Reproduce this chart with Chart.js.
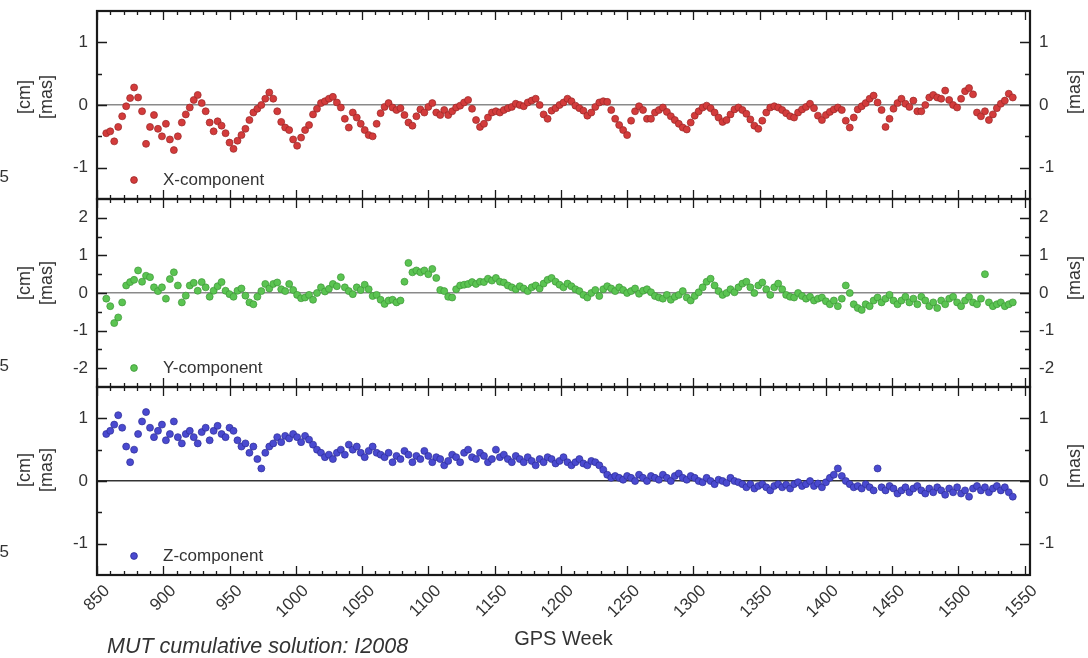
<!DOCTYPE html>
<html>
<head>
<meta charset="utf-8">
<script src="https://cdn.jsdelivr.net/npm/chart.js@4.4.1/dist/chart.umd.min.js"></script>
<style>
  html, body { margin: 0; padding: 0; background: #fff; }
  #wrap { position: relative; width: 1088px; height: 658px; overflow: hidden;
          font-family: "Liberation Sans", Arial, Helvetica, sans-serif; color: #333; }
  #wrap canvas { position: absolute; left: 0; top: 0; }
  .lbl { position: absolute; white-space: nowrap; line-height: 1; }
  .rot { font-size: 18px; transform: translate(-50%, -50%) rotate(-90deg); }
  .cut { font-size: 17px; left: -60px; width: 69px; text-align: right; }
  .note { font-size: 21.5px; font-style: italic; left: 107px; top: 636px; }
</style>
</head>
<body>
<div id="wrap">
  <canvas id="xChart" width="1088" height="658"></canvas>
  <canvas id="yChart" width="1088" height="658"></canvas>
  <canvas id="zChart" width="1088" height="658"></canvas>

  <div class="lbl cut" style="top:168px">-0.5</div>
  <div class="lbl cut" style="top:357px">-0.5</div>
  <div class="lbl cut" style="top:543px">-0.5</div>

  <div class="lbl rot" style="left:24px; top:97px">[cm]</div>
  <div class="lbl rot" style="left:46px; top:97px">[mas]</div>
  <div class="lbl rot" style="left:24px; top:283px">[cm]</div>
  <div class="lbl rot" style="left:46px; top:283px">[mas]</div>
  <div class="lbl rot" style="left:24px; top:470px">[cm]</div>
  <div class="lbl rot" style="left:46px; top:470px">[mas]</div>

  <div class="lbl rot" style="left:1074px; top:92px">[mas]</div>
  <div class="lbl rot" style="left:1074px; top:278px">[mas]</div>
  <div class="lbl rot" style="left:1074px; top:466px">[mas]</div>

  <div class="lbl note">MUT cumulative solution: I2008</div>
</div>

<script>
// GPS weeks (sampled every 3 weeks)
var weeks = [
  857,860,863,866,869,872,875,878,881,884,
  887,890,893,896,899,902,905,908,911,914,
  917,920,923,926,929,932,935,938,941,944,
  947,950,953,956,959,962,965,968,971,974,
  977,980,983,986,989,992,995,998,1001,1004,
  1007,1010,1013,1016,1019,1022,1025,1028,1031,1034,
  1037,1040,1043,1046,1049,1052,1055,1058,1061,1064,
  1067,1070,1073,1076,1079,1082,1085,1088,1091,1094,
  1097,1100,1103,1106,1109,1112,1115,1118,1121,1124,
  1127,1130,1133,1136,1139,1142,1145,1148,1151,1154,
  1157,1160,1163,1166,1169,1172,1175,1178,1181,1184,
  1187,1190,1193,1196,1199,1202,1205,1208,1211,1214,
  1217,1220,1223,1226,1229,1232,1235,1238,1241,1244,
  1247,1250,1253,1256,1259,1262,1265,1268,1271,1274,
  1277,1280,1283,1286,1289,1292,1295,1298,1301,1304,
  1307,1310,1313,1316,1319,1322,1325,1328,1331,1334,
  1337,1340,1343,1346,1349,1352,1355,1358,1361,1364,
  1367,1370,1373,1376,1379,1382,1385,1388,1391,1394,
  1397,1400,1403,1406,1409,1412,1415,1418,1421,1424,
  1427,1430,1433,1436,1439,1442,1445,1448,1451,1454,
  1457,1460,1463,1466,1469,1472,1475,1478,1481,1484,
  1487,1490,1493,1496,1499,1502,1505,1508,1511,1514,
  1517,1520,1523,1526,1529,1532,1535,1538,1541
];

// X-component [mas]
var xComp = [
  -0.45,-0.42,-0.58,-0.35,-0.18,-0.02,0.11,0.28,0.12,-0.1,
  -0.62,-0.35,-0.16,-0.38,-0.5,-0.3,-0.55,-0.72,-0.5,-0.28,
  -0.15,-0.04,0.08,0.16,0.03,-0.1,-0.28,-0.42,-0.26,-0.33,
  -0.45,-0.6,-0.7,-0.57,-0.48,-0.38,-0.24,-0.12,-0.06,0.0,
  0.1,0.2,0.1,-0.1,-0.27,-0.36,-0.4,-0.55,-0.65,-0.52,
  -0.4,-0.32,-0.15,-0.06,0.03,0.06,0.1,0.13,0.04,-0.04,
  -0.22,-0.36,-0.12,-0.2,-0.3,-0.4,-0.48,-0.5,-0.3,-0.13,
  -0.03,0.03,-0.04,-0.08,-0.05,-0.16,-0.28,-0.33,-0.18,-0.07,
  -0.12,-0.03,0.03,-0.12,-0.16,-0.08,-0.16,-0.1,-0.04,-0.01,
  0.04,0.08,-0.06,-0.24,-0.35,-0.3,-0.2,-0.12,-0.1,-0.12,
  -0.08,-0.05,-0.03,0.02,0.0,-0.02,0.04,0.07,0.1,0.0,
  -0.15,-0.22,-0.09,-0.05,0.0,0.04,0.1,0.06,-0.01,-0.05,
  -0.09,-0.17,-0.12,-0.03,0.04,0.06,0.05,-0.08,-0.22,-0.32,
  -0.4,-0.48,-0.25,-0.1,-0.02,-0.08,-0.22,-0.22,-0.12,-0.08,
  -0.04,-0.11,-0.18,-0.24,-0.3,-0.36,-0.39,-0.28,-0.17,-0.1,
  -0.04,-0.01,-0.05,-0.12,-0.2,-0.27,-0.24,-0.15,-0.07,-0.04,
  -0.08,-0.14,-0.23,-0.33,-0.38,-0.25,-0.12,-0.04,-0.02,-0.04,
  -0.08,-0.13,-0.18,-0.2,-0.12,-0.07,-0.03,0.02,-0.05,-0.17,
  -0.24,-0.16,-0.11,-0.07,-0.04,-0.08,-0.25,-0.36,-0.2,-0.07,
  -0.02,0.03,0.1,0.15,0.04,-0.08,-0.35,-0.22,-0.06,0.03,
  0.1,0.02,-0.03,0.07,-0.1,-0.1,0.0,0.12,0.16,0.12,
  0.1,0.23,0.08,0.0,-0.04,0.1,0.22,0.27,0.17,-0.12,
  -0.18,-0.1,-0.24,-0.15,-0.05,0.02,0.07,0.18,0.12
];

// Y-component [mas]
var yComp = [
  -0.15,-0.35,-0.8,-0.65,-0.25,0.2,0.29,0.35,0.6,0.3,
  0.46,0.42,0.15,0.05,0.15,-0.15,0.37,0.55,0.2,-0.25,
  -0.07,0.2,0.27,0.06,0.29,0.15,-0.1,0.06,0.18,0.29,
  0.06,-0.03,-0.1,0.06,0.12,-0.07,-0.25,-0.3,-0.1,0.05,
  0.24,0.12,0.24,0.28,0.1,0.05,0.24,0.08,-0.05,-0.14,
  -0.12,-0.05,-0.18,0.0,0.15,0.04,0.11,0.24,0.18,0.42,
  0.15,0.05,-0.03,0.15,0.08,0.22,0.1,-0.08,-0.05,-0.18,
  -0.29,-0.2,-0.18,-0.25,-0.2,0.3,0.8,0.55,0.6,0.55,
  0.6,0.5,0.64,0.4,0.08,0.05,-0.1,-0.12,0.1,0.2,
  0.22,0.24,0.29,0.24,0.3,0.29,0.38,0.33,0.4,0.3,
  0.28,0.2,0.15,0.1,0.18,0.12,0.05,0.15,0.2,0.12,
  0.25,0.35,0.4,0.3,0.22,0.15,0.25,0.18,0.1,0.05,
  -0.05,-0.12,0.0,0.08,-0.08,0.1,0.18,0.12,0.05,0.15,
  0.08,0.0,0.05,0.12,-0.02,0.06,0.1,0.02,-0.08,-0.12,
  -0.15,-0.05,-0.18,-0.1,-0.05,0.05,-0.12,-0.2,-0.08,0.02,
  0.15,0.3,0.38,0.2,0.05,-0.05,0.0,0.1,0.02,0.15,
  0.25,0.3,0.15,0.0,0.2,0.28,0.1,-0.05,0.15,0.25,
  0.1,-0.05,-0.1,-0.12,0.0,-0.08,-0.15,-0.1,-0.2,-0.15,
  -0.12,-0.22,-0.3,-0.2,-0.35,-0.15,0.2,0.0,-0.3,-0.4,
  -0.45,-0.3,-0.35,-0.2,-0.12,-0.25,-0.15,-0.05,-0.2,-0.3,
  -0.2,-0.1,-0.25,-0.15,-0.3,-0.1,-0.2,-0.35,-0.25,-0.4,
  -0.2,-0.3,-0.15,-0.1,-0.25,-0.35,-0.2,-0.1,-0.25,-0.3,
  -0.15,0.5,-0.25,-0.35,-0.3,-0.25,-0.35,-0.3,-0.25
];

// Z-component [mas]
var zComp = [
  0.75,0.8,0.9,1.05,0.85,0.55,0.3,0.5,0.75,0.95,
  1.1,0.85,0.7,0.8,0.9,0.65,0.75,0.95,0.7,0.6,
  0.75,0.8,0.7,0.6,0.78,0.85,0.65,0.8,0.88,0.75,
  0.7,0.85,0.8,0.65,0.55,0.6,0.45,0.55,0.35,0.2,
  0.45,0.55,0.6,0.7,0.62,0.72,0.68,0.75,0.7,0.62,
  0.72,0.66,0.58,0.5,0.45,0.38,0.42,0.35,0.45,0.5,
  0.42,0.58,0.5,0.55,0.45,0.38,0.48,0.55,0.45,0.42,
  0.38,0.45,0.3,0.4,0.35,0.48,0.42,0.3,0.4,0.35,
  0.48,0.4,0.3,0.38,0.35,0.25,0.32,0.42,0.38,0.3,
  0.45,0.5,0.38,0.35,0.45,0.4,0.3,0.35,0.5,0.38,
  0.42,0.35,0.3,0.4,0.35,0.3,0.38,0.32,0.25,0.35,
  0.3,0.38,0.35,0.28,0.32,0.38,0.3,0.25,0.3,0.35,
  0.28,0.25,0.32,0.3,0.25,0.18,0.1,0.05,0.08,0.05,
  0.02,0.08,0.05,0.0,0.1,0.05,0.0,0.08,0.05,0.02,
  0.1,0.05,0.0,0.08,0.12,0.05,0.02,0.08,0.05,0.0,
  -0.02,0.05,0.0,-0.05,0.02,0.0,-0.03,0.05,0.0,-0.02,
  -0.05,-0.1,-0.05,-0.12,-0.08,-0.05,-0.1,-0.15,-0.08,-0.05,
  -0.1,-0.06,-0.12,-0.05,-0.02,-0.08,-0.05,0.0,-0.08,-0.04,
  -0.1,-0.02,0.05,0.1,0.2,0.08,0.0,-0.05,-0.1,-0.08,
  -0.12,-0.05,-0.1,-0.15,0.2,-0.1,-0.15,-0.08,-0.12,-0.2,
  -0.15,-0.1,-0.18,-0.12,-0.08,-0.15,-0.2,-0.12,-0.18,-0.1,
  -0.15,-0.22,-0.12,-0.18,-0.1,-0.2,-0.15,-0.25,-0.12,-0.08,
  -0.15,-0.1,-0.18,-0.12,-0.08,-0.15,-0.1,-0.18,-0.25
];

var xTickWeeks = [850,900,950,1000,1050,1100,1150,1200,1250,1300,1350,1400,1450,1500,1550];
var weekMin = 850, weekMax = 1554;

var textColor = '#333';
var fontFamily = '"Liberation Sans", Arial, Helvetica, sans-serif';

// frame, inward tick marks and the little legend inside each panel
var panelFrame = {
  id: 'panelFrame',
  afterDraw: function(chart, args, opts) {
    var ctx = chart.ctx, a = chart.chartArea;
    var xs = chart.scales.x, ys = chart.scales.y;
    ctx.save();
    ctx.strokeStyle = '#1a1a1a';
    ctx.lineWidth = 1.3;
    ctx.beginPath();
    for (var w = weekMin; w <= weekMax; w += 10) {
      var px = Math.round(xs.getPixelForValue(w)) + 0.5;
      var len = (w % 50 === 0) ? 9 : 4;
      ctx.moveTo(px, a.bottom); ctx.lineTo(px, a.bottom - len);
      ctx.moveTo(px, a.top); ctx.lineTo(px, a.top + len);
    }
    for (var v = ys.min + 0.5; v < ys.max; v += 0.5) {
      var py = Math.round(ys.getPixelForValue(v)) + 0.5;
      var l2 = Number.isInteger(v) ? 10 : 5;
      ctx.moveTo(a.left, py); ctx.lineTo(a.left + l2, py);
      ctx.moveTo(a.right, py); ctx.lineTo(a.right - l2, py);
    }
    ctx.stroke();
    ctx.lineWidth = 2.2;
    ctx.strokeRect(a.left, a.top, a.right - a.left, a.bottom - a.top);

    // legend
    var ds = chart.data.datasets[0];
    var ly = a.bottom - 19;
    ctx.beginPath();
    ctx.arc(a.left + 37, ly, 3.4, 0, Math.PI * 2);
    ctx.fillStyle = ds.pointBackgroundColor;
    ctx.fill();
    ctx.lineWidth = 0.8;
    ctx.strokeStyle = ds.pointBorderColor;
    ctx.stroke();
    ctx.fillStyle = textColor;
    ctx.font = '17px ' + fontFamily;
    ctx.textBaseline = 'middle';
    ctx.fillText(ds.label, a.left + 66, ly);
    ctx.restore();
  }
};

function makePanel(id, vals, fill, edge, yLim, label, padTop, padBottom, isBottom, zeroColor) {
  var pts = weeks.map(function(w, i) { return {x: w, y: vals[i]}; });
  var yTicks = {
    stepSize: 0.5,
    autoSkip: false,
    color: textColor,
    font: {size: 17, family: fontFamily},
    callback: function(v) { return Number.isInteger(v) ? String(v) : ''; }
  };
  return new Chart(document.getElementById(id), {
    type: 'scatter',
    data: {
      datasets: [{
        label: label,
        data: pts,
        pointRadius: 3.5,
        pointBorderWidth: 0.7,
        pointBackgroundColor: fill,
        pointBorderColor: edge,
        pointStyle: 'circle'
      }]
    },
    options: {
      responsive: false,
      animation: false,
      events: [],
      devicePixelRatio: 1,
      layout: {padding: {top: padTop, bottom: padBottom, left: 0, right: 0}},
      plugins: {legend: {display: false}, tooltip: {enabled: false}},
      scales: {
        x: {
          type: 'linear',
          display: isBottom,
          min: weekMin,
          max: weekMax,
          afterBuildTicks: function(s) {
            s.ticks = xTickWeeks.map(function(v) { return {value: v}; });
          },
          grid: {display: false, drawTicks: false},
          border: {display: false},
          ticks: {
            autoSkip: false,
            minRotation: 45,
            maxRotation: 45,
            padding: 6,
            labelOffset: 10,
            color: textColor,
            font: {size: 17, family: fontFamily},
            callback: function(v) { return String(v); }
          },
          title: {
            display: true,
            text: 'GPS Week',
            color: textColor,
            font: {size: 20, family: fontFamily},
            padding: {top: 0, bottom: 7}
          },
          afterFit: function(s) {
            s.height = isBottom ? 83 : 0;
            s.paddingLeft = 0;
            s.paddingRight = 0;
          }
        },
        y: {
          position: 'left',
          min: -yLim,
          max: yLim,
          grid: {
            drawTicks: false,
            lineWidth: 1.5,
            color: function(c) { return c.tick && c.tick.value === 0 ? zeroColor : 'rgba(0,0,0,0)'; }
          },
          border: {display: false},
          ticks: Object.assign({padding: 9}, yTicks),
          afterFit: function(s) { s.width = 97; s.paddingTop = 0; s.paddingBottom = 0; }
        },
        y2: {
          position: 'right',
          min: -yLim,
          max: yLim,
          grid: {display: false, drawTicks: false},
          border: {display: false},
          ticks: Object.assign({padding: 9}, yTicks),
          afterFit: function(s) { s.width = 58; s.paddingTop = 0; s.paddingBottom = 0; }
        }
      }
    },
    plugins: [panelFrame]
  });
}

makePanel('xChart', xComp, '#d33b3b', '#9a2626', 1.5, 'X-component', 11, 459, false, '#8a8a8a');
makePanel('yChart', yComp, '#5bc452', '#3c9636', 2.5, 'Y-component', 199, 271, false, '#8a8a8a');
makePanel('zChart', zComp, '#4a4ad0', '#2c2c96', 1.5, 'Z-component', 387, 0, true, '#333333');
</script>
</body>
</html>
